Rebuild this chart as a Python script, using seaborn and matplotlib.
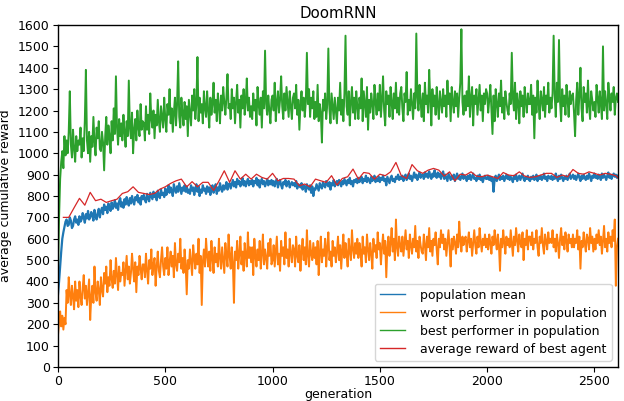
import numpy as np
import pandas as pd
import matplotlib
matplotlib.use("Agg")
import matplotlib.pyplot as plt
import seaborn as sns

# population mean, sampled every 5 generations (gen 0 .. 2610)
pop_mean = [
    340, 400, 470, 540, 600, 630, 655, 680, 690, 660, 665, 700, 685, 650, 660, 690, 705, 675, 690, 665,
    705, 680, 690, 720, 700, 675, 715, 695, 730, 690, 700, 725, 710, 685, 735, 705, 690, 720, 740, 700,
    730, 745, 715, 760, 735, 750, 720, 765, 745, 730, 770, 740, 755, 780, 745, 765, 735, 775, 790, 750,
    770, 745, 785, 760, 795, 770, 755, 790, 765, 800, 775, 760, 795, 780, 805, 770, 790, 760, 800, 785,
    805, 780, 770, 810, 790, 775, 815, 800, 785, 820, 795, 810, 780, 825, 800, 790, 830, 805, 815, 795,
    835, 805, 820, 850, 815, 840, 825, 800, 855, 830, 815, 845, 820, 860, 835, 810, 840, 825, 850, 820,
    845, 815, 830, 810, 850, 825, 840, 805, 835, 855, 820, 845, 800, 830, 815, 850, 825, 835, 810, 845,
    820, 840, 805, 835, 850, 815, 830, 855, 810, 840, 825, 860, 835, 820, 850, 830, 845, 865, 830, 850,
    860, 835, 855, 875, 845, 865, 840, 880, 855, 870, 845, 860, 885, 850, 870, 845, 865, 880, 850, 870,
    855, 875, 845, 870, 860, 885, 850, 875, 840, 865, 880, 855, 870, 845, 860, 880, 850, 870, 855, 875,
    850, 870, 845, 865, 880, 840, 860, 875, 850, 835, 865, 855, 875, 845, 860, 870, 840, 855, 865, 850,
    860, 845, 870, 835, 855, 850, 840, 860, 830, 850, 845, 820, 855, 840, 830, 850, 815, 845, 800, 835,
    830, 855, 840, 825, 860, 845, 835, 865, 850, 840, 870, 855, 845, 865, 830, 860, 850, 875, 845, 860,
    870, 850, 875, 860, 845, 870, 855, 880, 865, 850, 875, 860, 885, 855, 870, 845, 875, 865, 880, 860,
    885, 865, 875, 890, 860, 880, 870, 895, 865, 885, 875, 860, 890, 870, 880, 895, 865, 880, 870, 890,
    865, 885, 875, 895, 870, 880, 850, 890, 875, 860, 885, 895, 870, 880, 865, 890, 880, 900, 875, 890,
    880, 895, 870, 890, 900, 875, 885, 905, 880, 895, 870, 890, 910, 885, 900, 875, 895, 910, 885, 900,
    900, 880, 910, 890, 905, 885, 915, 895, 880, 905, 890, 920, 895, 885, 910, 890, 905, 880, 900, 915,
    880, 900, 885, 870, 905, 890, 875, 895, 880, 900, 870, 890, 905, 880, 895, 875, 890, 905, 880, 895,
    890, 870, 895, 880, 900, 875, 890, 905, 880, 885, 870, 895, 880, 900, 875, 890, 865, 885, 895, 880,
    880, 895, 875, 890, 870, 885, 820, 880, 895, 870, 885, 900, 875, 890, 880, 895, 870, 885, 900, 880,
    895, 875, 890, 880, 865, 895, 880, 900, 870, 885, 895, 875, 890, 905, 880, 870, 890, 880, 895, 875,
    870, 890, 880, 895, 875, 885, 900, 870, 890, 880, 895, 875, 885, 905, 880, 890, 870, 895, 885, 880,
    895, 875, 890, 880, 905, 885, 870, 895, 880, 900, 885, 870, 890, 880, 895, 875, 890, 905, 880, 890,
    900, 880, 895, 875, 890, 905, 885, 870, 895, 880, 900, 885, 875, 895, 880, 905, 890, 870, 895, 885,
    905, 885, 895, 880, 900, 890, 875, 905, 885, 900, 890, 875, 895, 910, 885, 900, 880, 895, 905, 890,
    900, 885, 895,
]

# worst performer in population
worst = [
    150, 210, 260, 190, 240, 175, 230, 200, 360, 300, 420, 340, 290, 380, 330, 270, 400, 310, 360, 280,
    400, 330, 290, 370, 430, 320, 380, 290, 350, 410, 220, 330, 380, 300, 470, 350, 310, 400, 360, 290,
    420, 360, 330, 440, 390, 470, 350, 420, 380, 500, 410, 370, 450, 390, 510, 430, 360, 470, 400, 440,
    430, 490, 380, 450, 520, 410, 470, 390, 440, 530, 460, 400, 490, 350, 470, 430, 520, 460, 410, 480,
    480, 420, 530, 450, 390, 500, 460, 550, 430, 480, 510, 380, 470, 540, 450, 420, 500, 560, 470, 430,
    510, 460, 560, 430, 490, 540, 470, 520, 420, 580, 480, 450, 530, 490, 600, 460, 510, 440, 550, 480,
    340, 500, 460, 550, 490, 430, 570, 510, 460, 530, 480, 600, 440, 520, 290, 490, 550, 470, 600, 520,
    470, 540, 450, 590, 510, 440, 560, 490, 530, 470, 600, 510, 460, 560, 500, 440, 580, 520, 470, 620,
    520, 460, 560, 490, 300, 540, 500, 590, 460, 530, 610, 480, 540, 450, 580, 520, 470, 630, 510, 560,
    490, 560, 430, 600, 520, 470, 550, 500, 590, 460, 530, 620, 480, 550, 510, 460, 580, 520, 600, 480,
    500, 570, 470, 540, 610, 480, 530, 450, 590, 520, 560, 480, 630, 510, 550, 470, 600, 530, 490, 570,
    550, 470, 610, 520, 490, 570, 450, 540, 600, 500, 560, 480, 640, 520, 470, 590, 530, 500, 580, 510,
    560, 480, 590, 430, 530, 610, 490, 550, 520, 600, 470, 560, 630, 500, 540, 470, 590, 520, 560, 490,
    540, 610, 500, 570, 460, 550, 620, 510, 580, 530, 470, 600, 540, 500, 640, 550, 510, 580, 530, 600,
    510, 580, 540, 470, 610, 530, 560, 490, 620, 550, 500, 580, 530, 460, 600, 540, 570, 510, 630, 550,
    580, 480, 560, 620, 530, 590, 420, 560, 610, 520, 580, 650, 540, 600, 500, 690, 560, 520, 610, 570,
    540, 610, 520, 580, 640, 550, 590, 510, 620, 570, 530, 600, 560, 660, 540, 590, 510, 610, 570, 540,
    530, 620, 570, 500, 610, 560, 650, 540, 590, 520, 600, 570, 630, 550, 480, 600, 560, 640, 580, 620,
    550, 600, 520, 580, 640, 560, 470, 600, 550, 610, 580, 530, 620, 560, 680, 590, 540, 610, 570, 600,
    610, 540, 590, 630, 560, 600, 520, 580, 640, 570, 530, 610, 560, 650, 590, 540, 600, 570, 620, 560,
    600, 550, 620, 580, 530, 610, 570, 640, 590, 550, 620, 570, 450, 600, 560, 640, 580, 530, 610, 570,
    600, 560, 640, 580, 520, 610, 570, 650, 590, 540, 620, 580, 560, 630, 500, 600, 570, 640, 550, 610,
    610, 570, 630, 550, 600, 580, 640, 560, 520, 610, 580, 650, 570, 530, 620, 590, 550, 630, 580, 600,
    580, 640, 560, 600, 540, 620, 580, 510, 600, 650, 570, 610, 550, 630, 590, 540, 620, 580, 600, 560,
    620, 560, 600, 580, 640, 550, 610, 460, 590, 560, 630, 580, 540, 620, 600, 550, 650, 580, 610, 540,
    600, 550, 620, 580, 640, 570, 610, 530, 590, 660, 560, 600, 540, 630, 580, 610, 560, 640, 590, 690,
    380, 560, 600,
]

# best performer in population
best = [
    450, 700, 880, 960, 1010, 930, 1080, 990, 1060, 1000, 1100, 1290, 1040, 980, 1110, 1020, 960, 1080, 1010, 1060,
    1040, 1120, 980, 1070, 1010, 1150, 1390, 1060, 1000, 1100, 960, 1080, 1030, 1170, 1050, 990, 1120, 1070, 1150, 1020,
    1010, 1100, 1050, 920, 1080, 1170, 1040, 1130, 1080, 1000, 1150, 1060, 1210, 1090, 1360, 1120, 1040, 1160, 1080, 1140,
    1060, 1180, 1100, 1030, 1150, 1080, 1340, 1120, 1070, 1190, 1000, 1110, 1160, 1060, 1200, 1120, 1080, 1230, 1110, 1150,
    1140, 1060, 1220, 1110, 1180, 1090, 1280, 1160, 1120, 1200, 1070, 1180, 1130, 1250, 1150, 1100, 1220, 1170, 1120, 1260,
    1160, 1100, 1230, 1180, 1300, 1140, 1210, 1100, 1190, 1260, 1130, 1230, 1430, 1170, 1120, 1260, 1190, 1130, 1240, 1160,
    1220, 1080, 1250, 1190, 1130, 1270, 1200, 1300, 1160, 1230, 1450, 1150, 1260, 1190, 1230, 1140, 1290, 1210, 1170, 1290,
    1200, 1120, 1260, 1180, 1230, 1330, 1190, 1250, 1150, 1280, 1220, 1140, 1270, 1200, 1310, 1240, 1180, 1260, 1370, 1210,
    1230, 1160, 1300, 1210, 1260, 1140, 1240, 1320, 1190, 1250, 1120, 1270, 1210, 1300, 1180, 1240, 1350, 1200, 1260, 1170,
    1220, 1160, 1280, 1200, 1250, 1130, 1310, 1230, 1180, 1260, 1120, 1290, 1210, 1480, 1230, 1180, 1270, 1200, 1140, 1250,
    1270, 1200, 1330, 1150, 1240, 1290, 1190, 1250, 1360, 1220, 1160, 1280, 1200, 1310, 1240, 1170, 1290, 1220, 1160, 1260,
    1280, 1210, 1320, 1180, 1250, 1110, 1230, 1290, 1200, 1260, 1170, 1240, 1470, 1230, 1300, 1170, 1260, 1210, 1290, 1160,
    1240, 1170, 1320, 1150, 1230, 1190, 1050, 1250, 1200, 1280, 1160, 1230, 1490, 1210, 1140, 1280, 1220, 1160, 1260, 1200,
    1140, 1260, 1200, 1330, 1180, 1250, 1150, 1280, 1550, 1220, 1180, 1290, 1130, 1240, 1310, 1190, 1260, 1160, 1290, 1220,
    1160, 1260, 1210, 1350, 1150, 1290, 1230, 1170, 1310, 1110, 1250, 1190, 1280, 1230, 1160, 1320, 1240, 1180, 1280, 1200,
    1320, 1170, 1250, 1360, 1200, 1130, 1290, 1230, 1270, 1170, 1310, 1240, 1160, 1280, 1210, 1330, 1190, 1260, 1180, 1280,
    1310, 1210, 1150, 1280, 1240, 1380, 1180, 1250, 1200, 1300, 1230, 1160, 1280, 1210, 1560, 1260, 1200, 1320, 1240, 1170,
    1280, 1150, 1330, 1230, 1270, 1190, 1390, 1250, 1130, 1300, 1220, 1270, 1180, 1310, 1230, 1160, 1290, 1240, 1190, 1300,
    1220, 1270, 1170, 1340, 1230, 1280, 1150, 1310, 1240, 1190, 1290, 1220, 1280, 1170, 1260, 1330, 1580, 1240, 1180, 1270,
    1200, 1290, 1220, 1360, 1170, 1260, 1310, 1130, 1270, 1230, 1300, 1180, 1250, 1320, 1200, 1270, 1150, 1280, 1230, 1300,
    1280, 1190, 1250, 1320, 1200, 1090, 1270, 1150, 1300, 1230, 1170, 1280, 1220, 1340, 1190, 1260, 1160, 1290, 1240, 1200,
    1180, 1280, 1230, 1470, 1260, 1200, 1330, 1160, 1280, 1240, 1140, 1290, 1220, 1270, 1170, 1310, 1240, 1190, 1280, 1230,
    1230, 1320, 1180, 1270, 1070, 1260, 1190, 1340, 1230, 1160, 1290, 1250, 1200, 1310, 1170, 1270, 1230, 1330, 1190, 1260,
    1210, 1280, 1550, 1270, 1170, 1330, 1240, 1530, 1240, 1150, 1300, 1220, 1270, 1180, 1320, 1250, 1170, 1290, 1230, 1270,
    1280, 1190, 1080, 1250, 1330, 1180, 1270, 1400, 1210, 1150, 1310, 1240, 1280, 1190, 1340, 1220, 1160, 1290, 1250, 1200,
    1240, 1170, 1320, 1260, 1190, 1290, 1230, 1160, 1500, 1200, 1290, 1230, 1160, 1330, 1260, 1200, 1280, 1240, 1310, 1180,
    1260, 1280, 1240,
]

# average reward of best agent, every 25 generations starting at 25
best_agent = [
    700, 700, 745, 789, 757, 817, 778, 785, 770, 778,
    785, 812, 820, 843, 817, 812, 807, 812, 832, 843,
    859, 871, 879, 843, 867, 843, 864, 864, 826, 870,
    918, 864, 918, 879, 902, 879, 902, 887, 879, 906,
    871, 882, 882, 879, 848, 856, 843, 879, 871, 864,
    895, 851, 882, 890, 926, 879, 910, 906, 879, 902,
    895, 913, 957, 895, 882, 947, 918, 906, 921, 929,
    921, 893, 913, 871, 902, 898, 913, 893, 890, 898,
    890, 882, 910, 898, 895, 913, 893, 887, 890, 898,
    906, 906, 887, 898, 890, 924, 906, 902, 913, 906,
    898, 906, 902, 895, 870,
]

labels = ["population mean", "worst performer in population",
          "best performer in population", "average reward of best agent"]
colors = ["#1f77b4", "#ff7f0e", "#2ca02c", "#d62728"]

gen = np.arange(len(pop_mean)) * 5
red_gen = (np.arange(len(best_agent)) + 1) * 25

df = pd.DataFrame({"generation": gen, "mean": pop_mean, "worst": worst, "best": best})
df_red = pd.DataFrame({"generation": red_gen, "agent": best_agent})

fig = plt.figure(figsize=(6.24, 4.01), dpi=100)
ax = fig.add_axes([58 / 624, 34 / 401, 560 / 624, 342 / 401])

sns.lineplot(data=df, x="generation", y="mean", ax=ax, color=colors[0], lw=1.6, label=labels[0])
sns.lineplot(data=df, x="generation", y="worst", ax=ax, color=colors[1], lw=1.4, label=labels[1])
sns.lineplot(data=df, x="generation", y="best", ax=ax, color=colors[2], lw=1.4, label=labels[2])
sns.lineplot(data=df_red, x="generation", y="agent", ax=ax, color=colors[3], lw=0.9, label=labels[3])

ax.set_xlim(0, 2610)
ax.set_ylim(0, 1600)
ax.set_yticks(np.arange(0, 1601, 100))
ax.set_xticks([0, 500, 1000, 1500, 2000, 2500])
ax.tick_params(labelsize=9, pad=2.5)
ax.set_xlabel("generation", fontsize=9, labelpad=0)
ax.set_ylabel("average cumulative reward", fontsize=9, labelpad=4)
ax.set_title("DoomRNN", fontsize=10.8, pad=5)
for s in ax.spines.values():
    s.set_color("black")
    s.set_linewidth(1.0)

leg = ax.legend(loc="lower right", fontsize=9, frameon=True, borderpad=0.4,
                labelspacing=0.4, handlelength=2.0, handletextpad=1.2)
for h in leg.get_lines():
    h.set_linewidth(1.0)

fig.savefig("out.png", dpi=100)
